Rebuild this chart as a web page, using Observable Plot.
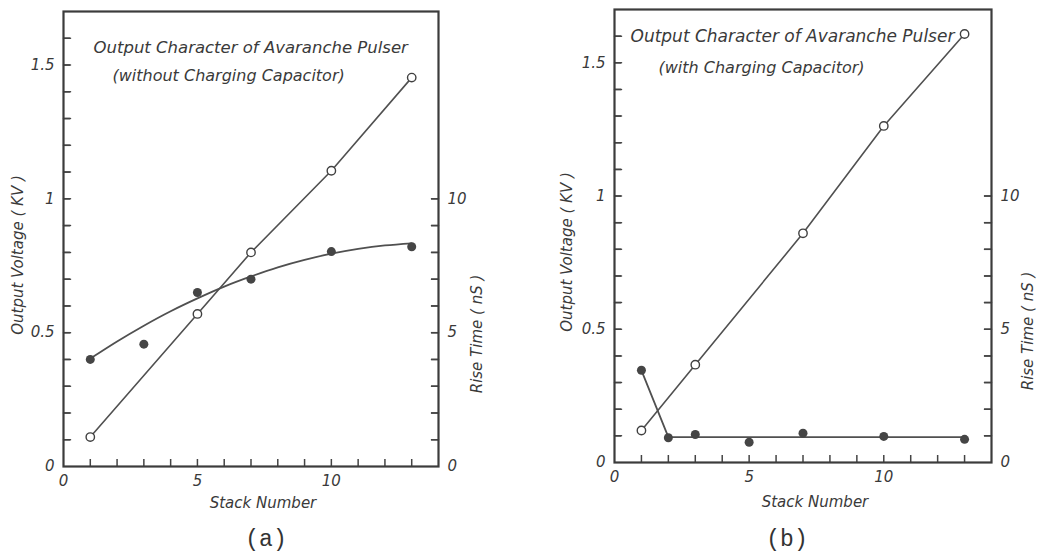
<!DOCTYPE html>
<html><head><meta charset="utf-8">
<script src="https://cdn.jsdelivr.net/npm/d3@7"></script>
<script src="https://cdn.jsdelivr.net/npm/@observablehq/plot@0.6"></script>
<style>
body{margin:0;background:#fff;}
#wrap{position:relative;width:1045px;height:556px;overflow:hidden;background:#fff;}
.panel{position:absolute;top:0;}
.cap{position:absolute;top:525px;height:30px;line-height:30px;font-family:"Liberation Mono","DejaVu Sans Mono",monospace;font-size:23px;color:#333;transform:translateX(-50%);}
</style></head><body>
<div id="wrap"></div>
<script>
// ---- Data ----
// Panel (a): without charging capacitor
const stackA = [1, 5, 7, 10, 13];
const voltA = [0.11, 0.57, 0.80, 1.105, 1.453];          // KV (open circles)
const riseStackA = [1, 3, 5, 7, 10, 13];
const riseA = [4.0, 4.57, 6.5, 7.0, 8.03, 8.21];          // nS (filled dots)
const fitStackA = [1, 2, 3, 4, 5, 6, 7, 8, 9, 10, 11, 12, 13];
const fitRiseA = [4.03, 4.67, 5.26, 5.80, 6.28, 6.72, 7.10, 7.44, 7.72, 7.95, 8.13, 8.26, 8.34]; // drawn curve, nS

// Panel (b): with charging capacitor
const stackB = [1, 3, 7, 10, 13];
const voltB = [0.12, 0.367, 0.86, 1.263, 1.608];
const riseStackB = [1, 2, 3, 5, 7, 10, 13];
const riseB = [3.46, 0.93, 1.05, 0.76, 1.1, 0.98, 0.87];
const fitStackB = [1, 2, 13];
const fitRiseB = [3.46, 0.95, 0.95];

// Axis ticks
const voltLabels = [0, 0.5, 1, 1.5];
const voltMinor = [0.1,0.2,0.3,0.4,0.5,0.6,0.7,0.8,0.9,1.0,1.1,1.2,1.3,1.4,1.5,1.6];
const riseLabels = [0, 5, 10];
const riseMinor = [1,2,3,4,5,6,7,8,9,10];
const stackLabels = [0, 5, 10];
const stackMinor = [1,2,3,4,5,6,7,8,9,10,11,12,13];

const FONT = '"DejaVu Sans", sans-serif';
const INK = "#444";
const X_DOMAIN = [0, 14];
const Y_DOMAIN = [0, 1.7];

function panel(o) {
  const pts = (xs, ys) => xs.map((x, i) => ({x, y: ys[i]}));
  const innerW = o.width - o.ml - o.mr;
  const innerH = o.height - o.mt - o.mb;
  const T = 7; // tick length in px
  const tx = T * (X_DOMAIN[1] - X_DOMAIN[0]) / innerW; // px -> x units
  const ty = T * (Y_DOMAIN[1] - Y_DOMAIN[0]) / innerH; // px -> y units
  // horizontal inward ticks on both vertical sides (right side: nS scaled to KV)
  const hTicks = [
    ...voltMinor.map(v => ({side: "L", v})),
    ...riseMinor.map(r => ({side: "R", v: r / 10}))
  ];
  const hSeg = hTicks.flatMap((t, i) => t.side === "L"
    ? [{id: i, x: X_DOMAIN[0], y: t.v}, {id: i, x: X_DOMAIN[0] + tx, y: t.v}]
    : [{id: i, x: X_DOMAIN[1] - tx, y: t.v}, {id: i, x: X_DOMAIN[1], y: t.v}]);
  return Plot.plot({
    width: o.width, height: o.height,
    marginLeft: o.ml, marginRight: o.mr, marginTop: o.mt, marginBottom: o.mb,
    style: {fontFamily: FONT, fontStyle: "italic", fontSize: "15px", color: "#3a3a3a", background: "transparent", overflow: "visible"},
    x: {domain: X_DOMAIN},
    y: {domain: Y_DOMAIN},
    marks: [
      // tick labels
      Plot.axisY({anchor: "left", ticks: voltLabels, tickSize: 0, tickPadding: 9, tickFormat: d => String(d), label: null, fontSize: 15}),
      Plot.axisY({anchor: "right", ticks: riseLabels.map(d => d / 10), tickSize: 0, tickPadding: 9, tickFormat: d => String(Math.round(d * 10)), label: null, fontSize: 15}),
      Plot.axisX({ticks: stackLabels, tickSize: 0, tickPadding: 9, tickFormat: d => String(d), label: null, fontSize: 15}),
      // axis titles
      Plot.text(["Output Voltage ( KV )"], {frameAnchor: "left", dx: o.lDx, dy: o.lDy, rotate: -90, textAnchor: "middle", lineAnchor: "middle", fontSize: 15}),
      Plot.text(["Rise Time ( nS )"], {frameAnchor: "right", dx: o.rDx, dy: o.rDy, rotate: -90, textAnchor: "middle", lineAnchor: "middle", fontSize: 15}),
      Plot.text(["Stack Number"], {frameAnchor: "bottom", dx: o.bDx, dy: o.bDy, textAnchor: "middle", lineAnchor: "middle", fontSize: 15}),
      // in-plot titles
      Plot.text([o.title], {frameAnchor: "top-left", dx: o.tDx, dy: o.tDy, textAnchor: "start", lineAnchor: "middle", fontSize: o.tSize}),
      Plot.text([o.subtitle], {frameAnchor: "top-left", dx: o.sDx, dy: o.sDy, textAnchor: "start", lineAnchor: "middle", fontSize: 16}),
      // data
      Plot.line(pts(o.fitStack, o.fitRise), {x: "x", y: d => d.y / 10, curve: o.curve, stroke: "#505050", strokeWidth: 1.8}),
      Plot.line(pts(o.stack, o.volt), {x: "x", y: "y", stroke: "#505050", strokeWidth: 1.6}),
      Plot.dot(pts(o.riseStack, o.rise), {x: "x", y: d => d.y / 10, r: 4.5, fill: "#454545", stroke: "none"}),
      Plot.dot(pts(o.stack, o.volt), {x: "x", y: "y", r: 4.2, fill: "#fff", stroke: "#404040", strokeWidth: 1.4}),
      // inward ticks
      Plot.ruleY(hTicks, {y: "v", x1: t => t.side === "L" ? X_DOMAIN[0] : X_DOMAIN[1] - tx, x2: t => t.side === "L" ? X_DOMAIN[0] + tx : X_DOMAIN[1], stroke: INK, strokeWidth: 1.5}),
      Plot.line(hSeg, {x: "x", y: "y", z: "id", stroke: INK, strokeWidth: 1.5}),
      Plot.ruleX(stackMinor, {x: d => d, y1: Y_DOMAIN[0], y2: Y_DOMAIN[0] + ty, stroke: INK, strokeWidth: 1.5}),
      Plot.frame({stroke: "#3c3c3c", strokeWidth: 2.2})
    ]
  });
}

const wrap = document.getElementById("wrap");

const optsA = {
  width: 520, height: 516, ml: 63, mr: 82, mt: 11, mb: 50,
  stack: stackA, volt: voltA, riseStack: riseStackA, rise: riseA,
  fitStack: fitStackA, fitRise: fitRiseA, curve: "natural",
  title: "Output Character of Avaranche Pulser", subtitle: "(without Charging Capacitor)",
  tSize: 16.5,
  tDx: 30, tDy: 36, sDx: 49, sDy: 64,
  lDx: -45, lDy: 16, rDx: 39, rDy: 95, bDx: 12, bDy: 37
};
const optsB = {
  width: 525, height: 516, ml: 94, mr: 54, mt: 9, mb: 54,
  stack: stackB, volt: voltB, riseStack: riseStackB, rise: riseB,
  fitStack: fitStackB, fitRise: fitRiseB, curve: "linear",
  title: "Output Character of Avaranche Pulser", subtitle: "(with Charging Capacitor)",
  tSize: 17,
  tDx: 16, tDy: 27, sDx: 44, sDy: 58,
  lDx: -47, lDy: 16, rDx: 37, rDy: 95, bDx: 12, bDy: 40
};

for (const [o, left] of [[optsA, 0], [optsB, 520]]) {
  const p = panel(o);
  p.classList.add("panel"); p.style.left = left + "px";
  wrap.appendChild(p);
}

for (const [t, x] of [["(a)", 266], ["(b)", 787]]) {
  const d = document.createElement("div");
  d.className = "cap"; d.textContent = t; d.style.left = x + "px";
  wrap.appendChild(d);
}
</script>
</body></html>
